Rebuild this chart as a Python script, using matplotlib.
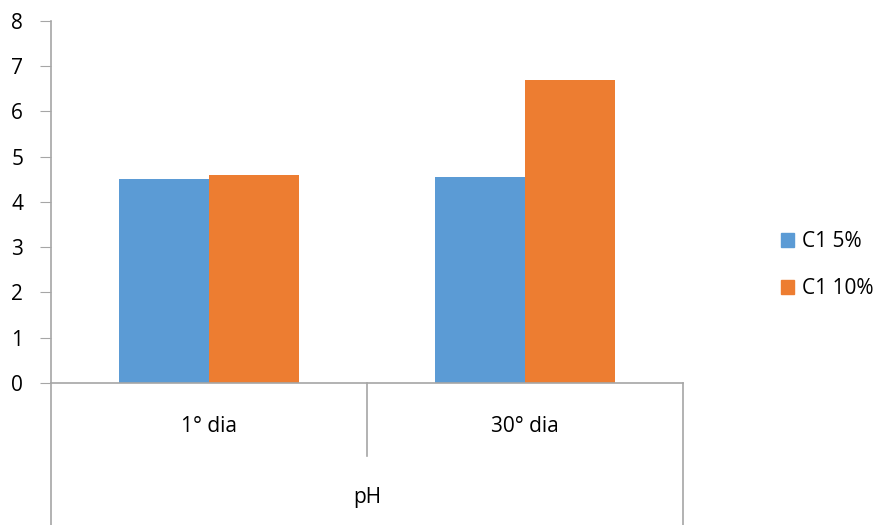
import matplotlib.pyplot as plt
from matplotlib.patches import Patch
import numpy as np

categories = ["1° dia", "30° dia"]
series_names = ["C1 5%", "C1 10%"]
c1_5 = [4.5, 4.54]
c1_10 = [4.6, 6.7]
group_label = "pH"
y_ticks = [0, 1, 2, 3, 4, 5, 6, 7, 8]

colors = ["#5b9bd5", "#ed7d31"]
axis_grey = "#a6a6a6"
fs = 15

plt.rcParams["font.family"] = ["Open Sans", "DejaVu Sans"]

fig = plt.figure(figsize=(8.85, 5.25), dpi=100)
W, H = 885, 525
ax = fig.add_axes([51 / W, (H - 383) / H, 632 / W, (383 - 20.7) / H])

x = np.arange(len(categories))
width = 0.285
ax.bar(x - width / 2, c1_5, width, color=colors[0])
ax.bar(x + width / 2, c1_10, width, color=colors[1])

ax.set_xlim(-0.5, len(categories) - 0.5)
ax.set_ylim(0, 8)
ax.set_yticks(y_ticks)
ax.tick_params(axis="y", length=8, color=axis_grey, labelsize=fs, pad=12)
ax.set_xticks([])

for side in ["top", "right"]:
    ax.spines[side].set_visible(False)
for side in ["left", "bottom"]:
    ax.spines[side].set_color(axis_grey)
    ax.spines[side].set_linewidth(1.2)

# multi-level category axis below the plot
trans = ax.get_xaxis_transform()
ax_h = 383 - 20.7
bottom = -(H - 383) / ax_h
divider = -(456 - 383) / ax_h
ax.plot([-0.5, -0.5], [0, bottom], color=axis_grey, lw=1.2, transform=trans, clip_on=False)
ax.plot([len(categories) - 0.5] * 2, [0, bottom], color=axis_grey, lw=1.2, transform=trans, clip_on=False)
for i in range(len(categories) - 1):
    ax.plot([i + 0.5] * 2, [0, divider], color=axis_grey, lw=1.2, transform=trans, clip_on=False)

for i, cat in enumerate(categories):
    ax.text(i, -(427 - 383) / ax_h, cat, transform=trans, ha="center", va="center", fontsize=fs)
ax.text((len(categories) - 1) / 2, -(498 - 383) / ax_h, group_label, transform=trans,
        ha="center", va="center", fontsize=fs)

handles = [Patch(color=c, label=n) for c, n in zip(colors, series_names)]
fig.legend(handles=handles, loc="center left", bbox_to_anchor=(762 / W, 1 - 265 / H),
           frameon=False, fontsize=fs, handlelength=0.65, handleheight=0.65,
           handletextpad=0.35, labelspacing=1.25)

fig.savefig("out.png", dpi=100)
